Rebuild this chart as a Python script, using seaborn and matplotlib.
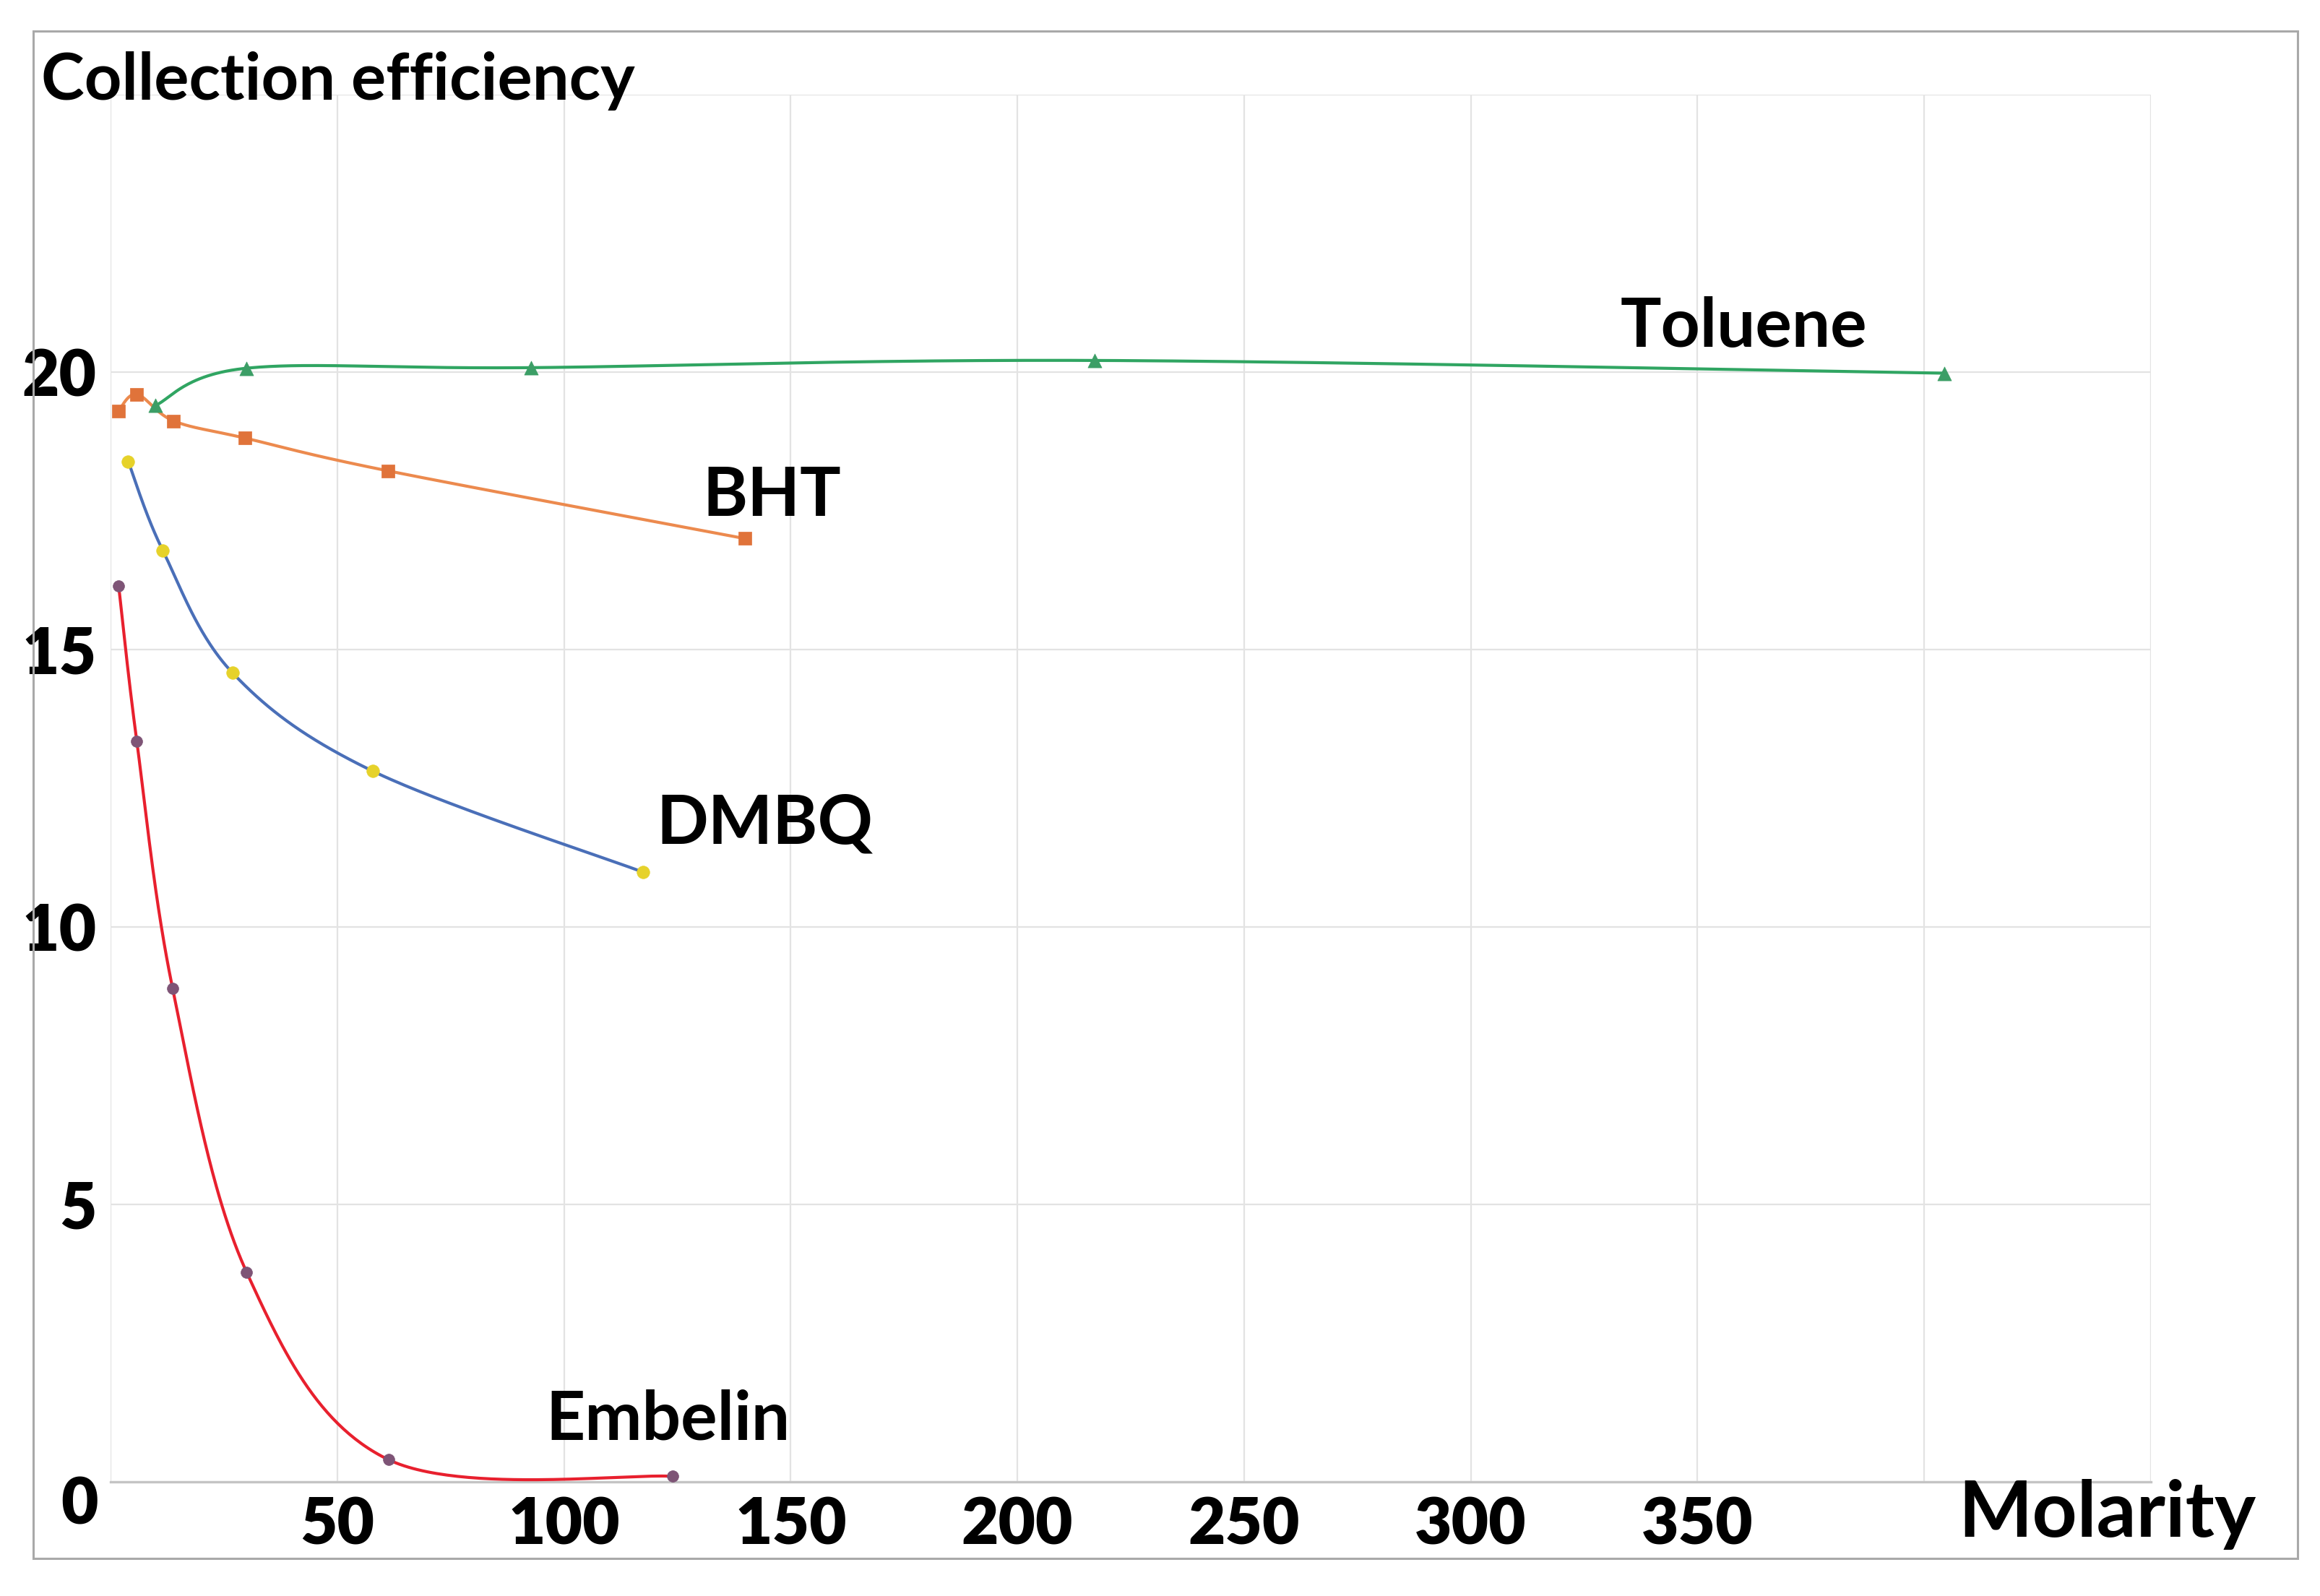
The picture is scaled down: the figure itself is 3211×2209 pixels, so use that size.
import numpy as np
import pandas as pd
import matplotlib
matplotlib.use("Agg")
import matplotlib.pyplot as plt
import seaborn as sns
from matplotlib.patches import Rectangle

# ---------------- data ----------------
toluene_x = [9.9, 30.0, 92.8, 217.0, 404.5]
toluene_y = [19.40, 20.07, 20.08, 20.21, 19.98]

bht_x = [1.75, 5.8, 13.9, 29.7, 61.2, 139.9]
bht_y = [19.30, 19.60, 19.12, 18.81, 18.22, 17.00]

dmbq_x = [3.9, 11.5, 26.9, 57.8, 117.4]
dmbq_y = [18.39, 16.79, 14.58, 12.81, 10.99]

embelin_x = [1.8, 5.8, 13.7, 30.0, 61.3, 124.0]
embelin_y = [16.14, 13.34, 8.89, 3.78, 0.40, 0.10]

series_names = ["Toluene", "BHT", "DMBQ", "Embelin"]
x_tick_values = [50, 100, 150, 200, 250, 300, 350]
x_tick_labels = ["50", "100", "150", "200", "250", "300", "350"]
y_tick_values = [5, 10, 15, 20]
y_tick_labels = ["5", "10", "15", "20"]
y_title = "Collection efficiency"
x_title = "Molarity"

# ---------------- style ----------------
sns.set_style("white")
plt.rcParams["font.family"] = ["Lato", "DejaVu Sans"]
plt.rcParams["font.weight"] = "bold"

W, H = 3211, 2209
fig = plt.figure(figsize=(W / 100, H / 100), dpi=100)
fig.patch.set_facecolor("white")

ax_left, ax_right, ax_top, ax_bot = 153 / W, 2977 / W, 1 - 131 / H, 1 - 2051 / H
ax = fig.add_axes([ax_left, ax_bot, ax_right - ax_left, ax_top - ax_bot])

XMAX, YMAX = 450, 25
ax.set_xlim(0, XMAX)
ax.set_ylim(0, YMAX)

# scale factors (pixels per data unit) for smoothing in display space
sx = (ax_right - ax_left) * W / XMAX
sy = (ax_top - ax_bot) * H / YMAX


def smooth_curve(xs, ys, n=60):
    """Excel-like smoothed line (Catmull-Rom Bezier) through the data points."""
    P = np.column_stack([np.asarray(xs) * sx, np.asarray(ys) * sy])
    out = []
    t = np.linspace(0, 1, n)[:, None]
    for i in range(len(P) - 1):
        p0 = P[i - 1] if i > 0 else P[i]
        p1, p2 = P[i], P[i + 1]
        p3 = P[i + 2] if i + 2 < len(P) else P[i + 1]
        c1 = p1 + (p2 - p0) / 6.0
        c2 = p2 - (p3 - p1) / 6.0
        seg = ((1 - t) ** 3) * p1 + 3 * ((1 - t) ** 2) * t * c1 + 3 * (1 - t) * t ** 2 * c2 + t ** 3 * p2
        out.append(seg if i == 0 else seg[1:])
    out = np.vstack(out)
    return out[:, 0] / sx, out[:, 1] / sy


specs = [
    (toluene_x, toluene_y, "#30a562", "#3c9e66", "^", 190),
    (bht_x, bht_y, "#ec8a4e", "#e0733a", "s", 160),
    (dmbq_x, dmbq_y, "#4a6fb8", "#e6d22a", "o", 160),
    (embelin_x, embelin_y, "#e8202e", "#7e5476", "o", 130),
]

for (xs, ys, lc, mc, mk, ms), name in zip(specs, series_names):
    cx, cy = smooth_curve(xs, ys)
    df_line = pd.DataFrame({"x": cx, "y": cy})
    sns.lineplot(data=df_line, x="x", y="y", ax=ax, color=lc, linewidth=3.0,
                 sort=False, estimator=None, zorder=3)
    df_pts = pd.DataFrame({"x": xs, "y": ys})
    sns.scatterplot(data=df_pts, x="x", y="y", ax=ax, color=mc, marker=mk, s=ms,
                    edgecolor=mc, linewidth=0.5, zorder=4)

# ---------------- grid & axes ----------------
ax.set_xticks(np.arange(0, XMAX + 1, 50))
ax.set_yticks(np.arange(0, YMAX + 1, 5))
ax.grid(True, color="#e3e3e3", linewidth=1.6)
ax.set_axisbelow(True)
for s in ["left", "right", "top"]:
    ax.spines[s].set_visible(False)
ax.spines["bottom"].set_color("#c4c4c4")
ax.spines["bottom"].set_linewidth(2.4)
ax.spines["bottom"].set_zorder(2)

xl = [""] * len(ax.get_xticks())
for v, lab in zip(x_tick_values, x_tick_labels):
    xl[int(v // 50)] = lab
ax.set_xticklabels(xl)
yl = [""] * len(ax.get_yticks())
for v, lab in zip(y_tick_values, y_tick_labels):
    yl[int(v // 5)] = lab
ax.set_yticklabels(yl)
ax.tick_params(axis="both", length=0, labelsize=64, colors="black")
ax.tick_params(axis="x", pad=14)
ax.tick_params(axis="y", pad=14)
for lab in ax.get_xticklabels() + ax.get_yticklabels():
    lab.set_fontweight("heavy")
ax.set_xlabel("")
ax.set_ylabel("")

# "0" label sits a bit below the corner
fig.text(110 / W, 1 - 2083 / H, "0", ha="center", va="center", fontsize=64,
         fontweight="heavy", color="black")

# axis titles
fig.text(57 / W, 1 - 138 / H, y_title, ha="left", va="baseline", fontsize=65,
         fontweight="bold", color="black")
fig.text(2710 / W, 1 - 2127 / H, x_title, ha="left", va="baseline", fontsize=78,
         fontweight="bold", color="black")

# series labels
label_pos = {"Toluene": (333.0, 20.46), "BHT": (130.6, 17.41),
             "DMBQ": (120.3, 11.50), "Embelin": (96.0, 0.76)}
for name in series_names:
    lx, ly = label_pos[name]
    ax.text(lx, ly, name, ha="left", va="baseline", fontsize=68,
            fontweight="bold", color="black", zorder=5)

# outer frame
fig.patches.append(Rectangle((46 / W, 1 - 2157 / H), (3180 - 46) / W, (2157 - 43) / H,
                             transform=fig.transFigure, fill=False,
                             edgecolor="#a9a9a9", linewidth=2.2))

fig.savefig("out.png", dpi=100, facecolor="white")
